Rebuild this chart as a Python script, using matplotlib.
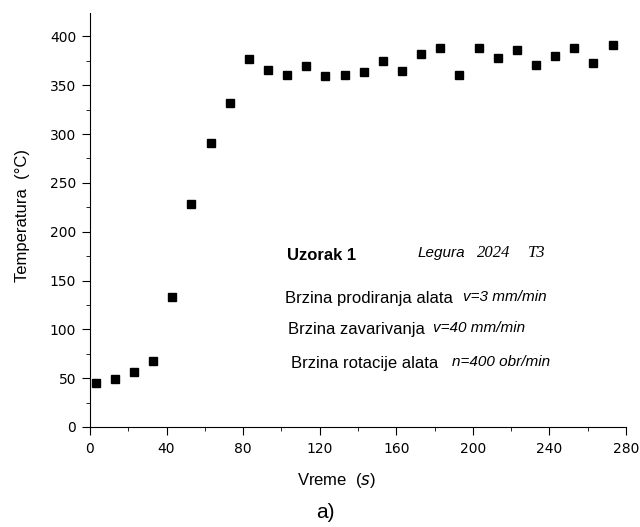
import matplotlib.pyplot as plt
from matplotlib.ticker import MultipleLocator

plt.rcParams['font.family'] = ['Liberation Sans', 'DejaVu Sans']

# time (s) and temperature (deg C)
vreme = [3, 13, 23, 33, 43, 53, 63, 73, 83, 93, 103, 113, 123, 133,
         143, 153, 163, 173, 183, 193, 203, 213, 223, 233, 243, 253, 263, 273]
temperatura = [45, 49, 56, 68, 133, 228, 291, 332, 377, 366, 361, 370, 359, 361,
               364, 375, 365, 382, 388, 361, 388, 378, 386, 371, 380, 388, 373, 391]

fig = plt.figure(figsize=(6.4, 5.27), dpi=100)
ax = fig.add_axes([0.1406, 0.1898, 0.8375, 0.7855])

ax.plot(vreme, temperatura, 's', color='black', markersize=6)

ax.set_xlim(0, 280)
ax.set_ylim(0, 424)
ax.spines['top'].set_visible(False)
ax.spines['right'].set_visible(False)
ax.xaxis.set_major_locator(MultipleLocator(40))
ax.xaxis.set_minor_locator(MultipleLocator(20))
ax.yaxis.set_major_locator(MultipleLocator(50))
ax.yaxis.set_minor_locator(MultipleLocator(25))
ax.tick_params(which='major', direction='out', length=6, pad=4)
ax.tick_params(axis='x', which='major', pad=5)
ax.tick_params(which='minor', direction='out', length=3)
for lab in ax.get_xticklabels() + ax.get_yticklabels():
    lab.set_family('DejaVu Sans')
    lab.set_fontsize(10)

ax.set_xlabel('Vreme  ($\\it{s}$)', fontsize=12)
ax.xaxis.set_label_coords(0.459, -0.106)
ax.set_ylabel('Temperatura  (°C)', fontsize=12)
ax.yaxis.set_label_coords(-0.112, 0.51)

fs = 12
ax.text(103, 176, 'Uzorak 1', fontsize=fs, fontweight='bold', va='center')
ax.text(171, 178, 'Legura', fontsize=11, style='italic', va='center')
ax.text(202, 178, '2024', fontsize=12, style='italic', family='Liberation Serif', va='center')
ax.text(229, 178, 'T3', fontsize=12, style='italic', family='Liberation Serif', va='center')
ax.text(102, 132, 'Brzina prodiranja alata', fontsize=fs, va='center')
ax.text(195, 133, 'v=3 mm/min', fontsize=11, style='italic', va='center')
ax.text(103.5, 100, 'Brzina zavarivanja', fontsize=fs, va='center')
ax.text(179, 101, 'v=40 mm/min', fontsize=11, style='italic', va='center')
ax.text(105, 65.5, 'Brzina rotacije alata', fontsize=fs, va='center')
ax.text(189, 66.5, 'n=400 obr/min', fontsize=11, style='italic', va='center')

fig.text(0.509, 0.027, 'a)', fontsize=15, ha='center', va='center')

fig.savefig('out.png', dpi=100)
